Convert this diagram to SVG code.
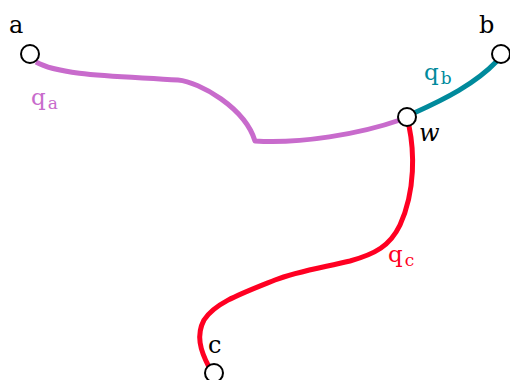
<svg xmlns="http://www.w3.org/2000/svg" width="510" height="380" viewBox="0 0 510 380">
<style>
.e{fill:none;stroke-width:5;stroke-linecap:butt;stroke-linejoin:round}
.n{fill:#fff;stroke:#000;stroke-width:2}
.t{font-family:"DejaVu Serif","Liberation Serif",serif;font-size:24px;fill:#000}
.q{font-family:"DejaVu Serif","Liberation Serif",serif;font-size:23px}
.s{font-size:17px}
</style>
<rect width="510" height="380" fill="#fff"/>
<g id="connectors">
<path class="e" stroke="#c86bcc" d="M36 62 C60 76 120 76 178 80 C200 82 245 108 255 141 C300 144 360 134 400 120"/>
<path class="e" stroke="#008a9c" d="M414 113 C445 99 475 84 497 61"/>
<path class="e" stroke="#ff0022" d="M409 126 C414 150 416 190 400 225 C390 246 375 254 350 261 C320 268 295 272 275 280 C240 294 215 303 204 320 C196 335 200 350 209 367"/>
</g>
<g id="a"><circle class="n" cx="30" cy="54" r="9"/><text class="t" x="9" y="33">a</text></g>
<g id="b"><circle class="n" cx="501" cy="54" r="9"/><text class="t" x="479" y="33">b</text></g>
<g id="w"><circle class="n" cx="407" cy="117" r="9"/><text class="t" x="419" y="141" font-style="italic">w</text></g>
<g id="c"><circle class="n" cx="214" cy="373" r="9"/><text class="t" x="208" y="353">c</text></g>
<g id="labels">
<text class="q" fill="#c86bcc" x="31" y="105">q<tspan class="s" dx="2" dy="4">a</tspan></text>
<text class="q" fill="#008a9c" x="424" y="80">q<tspan class="s" dx="2" dy="4">b</tspan></text>
<text class="q" fill="#ff0022" x="388" y="262">q<tspan class="s" dx="2" dy="4">c</tspan></text>
</g>
</svg>
